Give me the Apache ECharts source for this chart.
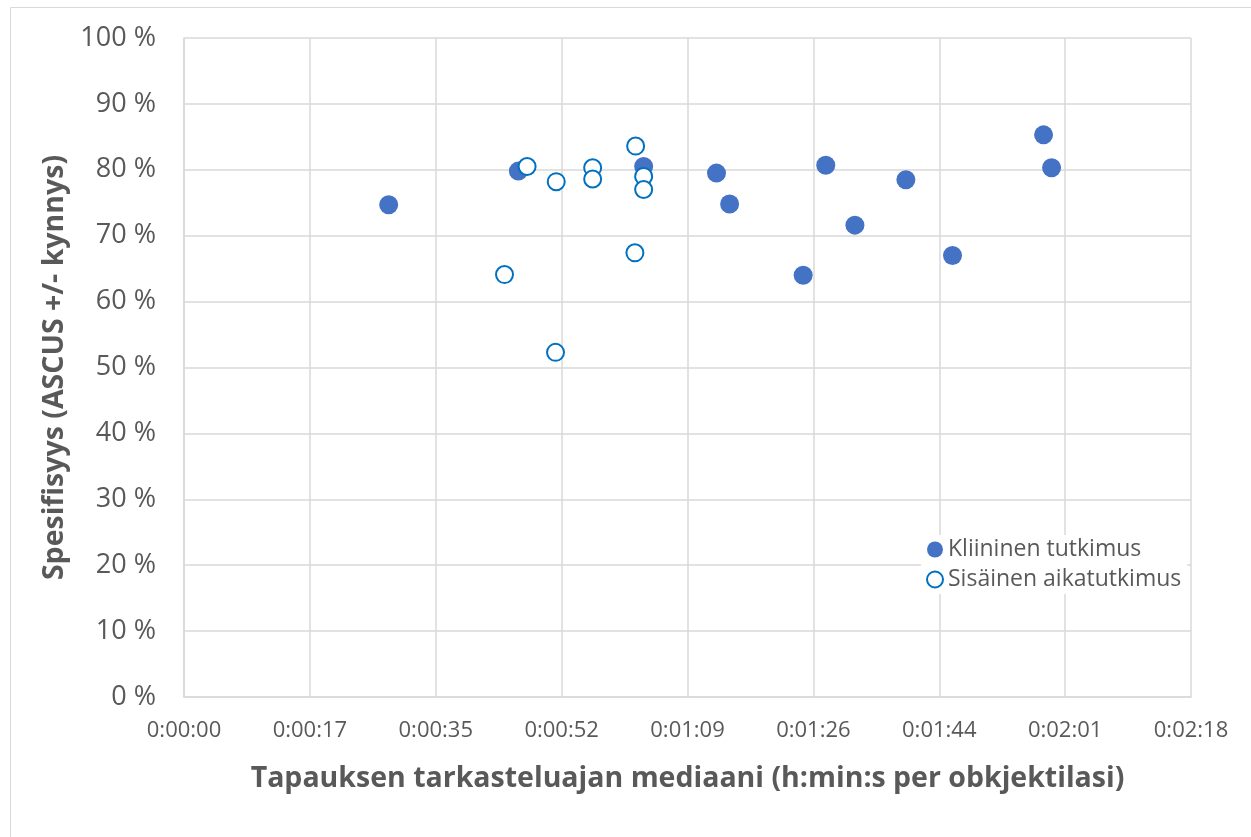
<!DOCTYPE html>
<html>
<head>
<meta charset="utf-8">
<script src="https://cdn.jsdelivr.net/npm/echarts@6/dist/echarts.min.js"></script>
<style>
  html, body { margin: 0; padding: 0; background: #fff; }
  #chart { width: 1251px; height: 837px; }
</style>
</head>
<body>
<div id="chart"></div>
<script>
// median review time in seconds, specificity in %
const clinicalTime = [28.1, 45.9, 63.1, 73.1, 74.9, 85.0, 88.1, 92.1, 99.1, 105.5, 118.0, 119.1];
const clinicalSpec = [74.7, 79.8, 80.5, 79.5, 74.8, 64.0, 80.7, 71.6, 78.5, 67.0, 85.3, 80.3];

const internalTime = [44.0, 47.1, 51.1, 51.0, 56.1, 56.1, 62.0, 61.9, 63.1, 63.1];
const internalSpec = [64.1, 80.5, 78.2, 52.3, 80.3, 78.6, 83.6, 67.4, 79.0, 77.0];

// excel day-fraction steps of 0.0002 days = 17.28 s
const xTickStep = 17.28;
const xMax = 138.24;

const seriesNames = ['Kliininen tutkimus', 'Sisäinen aikatutkimus'];

const textColor = '#595959';
const gridColor = '#D9D9D9';
const font = '"Open Sans", "Noto Sans", sans-serif';

function toPairs(xs, ys) {
  return xs.map((x, i) => [x, ys[i]]);
}

function fmtTime(v) {
  const s = Math.round(v);
  const h = Math.floor(s / 3600);
  const m = Math.floor((s % 3600) / 60);
  const sec = s % 60;
  return h + ':' + String(m).padStart(2, '0') + ':' + String(sec).padStart(2, '0');
}

const myChart = echarts.init(document.getElementById('chart'));

const option = {
  backgroundColor: '#fff',
  animation: false,
  graphic: [
    {
      type: 'rect',
      shape: { x: 10.5, y: 7.5, width: 1260, height: 840 },
      style: { fill: 'none', stroke: '#D9D9D9', lineWidth: 1 },
      silent: true,
    },
  ],
  grid: {
    left: 184,
    top: 38,
    right: 60,
    bottom: 140,
  },
  legend: {
    orient: 'vertical',
    left: 921,
    top: 535,
    itemWidth: 16,
    itemHeight: 16,
    itemGap: 7,
    backgroundColor: '#fff',
    padding: [3, 6, 3, 5],
    textStyle: {
      color: textColor,
      fontSize: 23,
      fontFamily: font,
    },
    data: [
      { name: seriesNames[0], icon: 'circle' },
      { name: seriesNames[1], icon: 'circle' },
    ],
  },
  xAxis: {
    type: 'value',
    min: 0,
    max: xMax,
    interval: xTickStep,
    name: 'Tapauksen tarkasteluajan mediaani (h:min:s per obkjektilasi)',
    nameLocation: 'middle',
    nameGap: 67,
    nameTextStyle: {
      color: textColor,
      fontSize: 28.5,
      fontWeight: 'bold',
      fontFamily: font,
    },
    axisLine: { show: true, lineStyle: { color: gridColor, width: 1.5 } },
    axisTick: { show: false },
    axisLabel: {
      color: textColor,
      fontSize: 22,
      fontFamily: font,
      margin: 23,
      formatter: fmtTime,
    },
    splitLine: { show: true, lineStyle: { color: gridColor, width: 1.5 } },
  },
  yAxis: {
    type: 'value',
    min: 0,
    max: 100,
    interval: 10,
    name: 'Spesifisyys (ASCUS +/- kynnys)',
    nameLocation: 'middle',
    nameGap: 99,
    nameTextStyle: {
      color: textColor,
      fontSize: 28.5,
      fontWeight: 'bold',
      fontFamily: font,
    },
    axisLine: { show: true, lineStyle: { color: gridColor, width: 1.5 } },
    axisTick: { show: false },
    axisLabel: {
      color: textColor,
      fontSize: 27,
      fontFamily: font,
      margin: 28,
      formatter: (v) => v + ' %',
    },
    splitLine: { show: true, lineStyle: { color: gridColor, width: 1.5 } },
  },
  series: [
    {
      name: seriesNames[0],
      type: 'scatter',
      symbol: 'circle',
      symbolSize: 19,
      data: toPairs(clinicalTime, clinicalSpec),
      itemStyle: {
        color: '#4472C4',
        opacity: 1,
      },
    },
    {
      name: seriesNames[1],
      type: 'scatter',
      symbol: 'circle',
      symbolSize: 17,
      data: toPairs(internalTime, internalSpec),
      itemStyle: {
        color: '#fff',
        borderColor: '#0070C0',
        borderWidth: 2,
        opacity: 1,
      },
    },
  ],
};

myChart.setOption(option);
</script>
</body>
</html>
